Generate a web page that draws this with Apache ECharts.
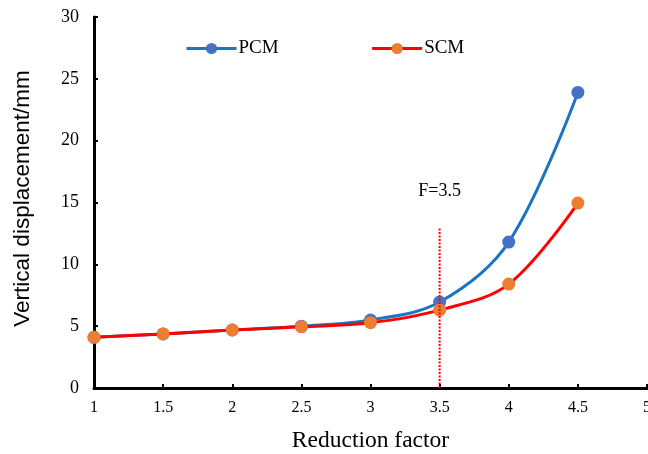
<!DOCTYPE html>
<html>
<head>
<meta charset="utf-8">
<script src="https://cdn.jsdelivr.net/npm/echarts@6/dist/echarts.min.js"></script>
<style>html,body{margin:0;padding:0;background:#fff}#c{width:648px;height:454px}</style>
</head>
<body>
<div id="c"></div>
<script>
var xTicks = [1, 1.5, 2, 2.5, 3, 3.5, 4, 4.5];
var pcmValues = [4.1, 4.37, 4.69, 5.0, 5.5, 6.95, 11.8, 23.9];
var scmValues = [4.1, 4.37, 4.69, 4.95, 5.28, 6.3, 8.4, 14.95];
var refX = 3.5;
var refTop = 13;
var refLabel = 'F=3.5';
var refLabelY = 15.9;

var pcmData = xTicks.map(function (x, i) { return [x, pcmValues[i]]; });
var scmData = xTicks.map(function (x, i) { return [x, scmValues[i]]; });

var serif = 'Liberation Serif';
var chart = echarts.init(document.getElementById('c'), null, {renderer: 'canvas'});
chart.setOption({
  animation: false,
  backgroundColor: '#fff',
  grid: {left: 94, right: 1, top: 17, bottom: 66, containLabel: false, outerBoundsMode: 'none'},
  legend: {
    data: ['PCM', 'SCM'],
    left: 180, top: 34,
    itemWidth: 50, itemHeight: 14, itemGap: 92,
    lineStyle: {width: 3},
    textStyle: {fontFamily: serif, fontSize: 19, color: '#000', padding: [0, 0, 0, -3]}
  },
  xAxis: {
    type: 'value', min: 1, max: 5, interval: 0.5,
    name: 'Reduction factor', nameLocation: 'middle', nameGap: 41,
    nameTextStyle: {fontFamily: serif, fontSize: 23.5, color: '#000'},
    axisLine: {show: true, lineStyle: {color: '#000', width: 3}},
    axisTick: {show: true, inside: true, length: 4, lineStyle: {color: '#000', width: 2}},
    axisLabel: {fontFamily: serif, fontSize: 16, color: '#000', margin: 12, showMaxLabel: true, hideOverlap: false},
    splitLine: {show: false}
  },
  yAxis: {
    type: 'value', min: 0, max: 30, interval: 5,
    name: 'Vertical displacement/mm', nameLocation: 'middle', nameGap: 60,
    nameTextStyle: {fontFamily: 'Liberation Sans', fontSize: 22.5, color: '#000', padding: [0, 0, 0, 8]},
    axisLine: {show: true, lineStyle: {color: '#000', width: 3}},
    axisTick: {show: true, inside: true, length: 4, lineStyle: {color: '#000', width: 2}},
    axisLabel: {fontFamily: serif, fontSize: 18, color: '#000', margin: 15},
    splitLine: {show: false}
  },
  series: [
    {
      name: 'PCM', type: 'line', data: pcmData, smooth: 0.35,
      symbol: 'circle', symbolSize: 13,
      lineStyle: {color: '#1F74C1', width: 3},
      itemStyle: {color: '#4472C4'},
      z: 2
    },
    {
      name: 'SCM', type: 'line', data: scmData, smooth: 0.35,
      symbol: 'circle', symbolSize: 13,
      lineStyle: {color: '#FF0000', width: 3},
      itemStyle: {color: '#ED7D31'},
      z: 3
    },
    {
      name: 'ref', type: 'line', data: [[refX, 0], [refX, refTop]],
      symbol: 'none', silent: true,
      lineStyle: {color: '#FF0000', width: 2, type: [2, 1.5]},
      z: 4
    },
    {
      name: 'refLabel', type: 'scatter', data: [[refX, refLabelY]],
      symbolSize: 0, silent: true,
      itemStyle: {opacity: 1},
      label: {show: true, position: 'inside', formatter: refLabel,
        fontFamily: serif, fontSize: 18, color: '#000', opacity: 1},
      z: 5
    }
  ]
});
</script>
</body>
</html>
